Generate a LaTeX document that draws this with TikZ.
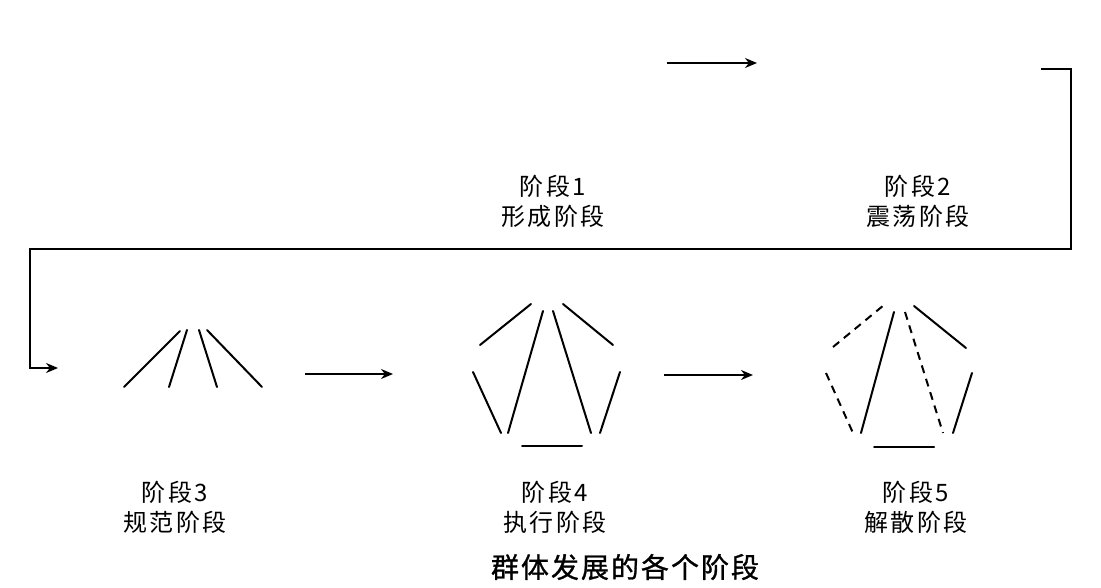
\documentclass[tikz,border=0pt]{standalone}
\usepackage{fontspec}
\setmainfont{Noto Sans CJK SC}
\usetikzlibrary{arrows.meta}
\newcommand{\lblk}{\kern2.5pt}
\newcommand{\ttlk}{\kern2pt}
\tikzset{
  stroke/.style={line width=2pt, line cap=round},
  dashstroke/.style={line width=2pt, dash pattern=on 8pt off 6pt},
  flow/.style={line width=1.6pt, -{Stealth[length=12pt,width=10pt]}},
  lbl/.style={align=center, font=\fontsize{24}{30}\selectfont, inner sep=0pt},
  ttl/.style={font=\fontsize{28}{32}\selectfont\addfontfeature{FakeBold=1}, inner sep=0pt}
}
\begin{document}
\begin{tikzpicture}[x=1pt,y=-1pt]
\useasboundingbox (0,0) rectangle (1101,588);
% top arrow (stage 1 -> stage 2)
\coordinate (a1s) at (667,63);
\coordinate (a1e) at (757,63);
\draw[flow] (a1s) -- (a1e);
% long connector stage 2 -> stage 3
\coordinate (c0) at (1041,69);
\coordinate (c1) at (1071,69);
\coordinate (c2) at (1071,249);
\coordinate (c3) at (30,249);
\coordinate (c4) at (30,368);
\coordinate (c5) at (58,368);
\draw[flow] (c0) -- (c1) -- (c2) -- (c3) -- (c4) -- (c5);
% stage 3 -> 4, 4 -> 5
\coordinate (b1s) at (305,374);
\coordinate (b1e) at (393,374);
\draw[flow] (b1s) -- (b1e);
\coordinate (b2s) at (664,375);
\coordinate (b2e) at (753,375);
\draw[flow] (b2s) -- (b2e);
% labels
\node[lbl] (l1) at (553,201) {阶\lblk 段\lblk 1\\形\lblk 成\lblk 阶\lblk 段};
\node[lbl] (l2) at (918,201) {阶\lblk 段\lblk 2\\震\lblk 荡\lblk 阶\lblk 段};
\node[lbl] (l3) at (175,507) {阶\lblk 段\lblk 3\\规\lblk 范\lblk 阶\lblk 段};
\node[lbl] (l4) at (555,507) {阶\lblk 段\lblk 4\\执\lblk 行\lblk 阶\lblk 段};
\node[lbl] (l5) at (916,507) {阶\lblk 段\lblk 5\\解\lblk 散\lblk 阶\lblk 段};
\node[ttl] (title) at (625,567) {群\ttlk 体\ttlk 发\ttlk 展\ttlk 的\ttlk 各\ttlk 个\ttlk 阶\ttlk 段};
% stage 3 drawing
\draw[stroke] (180,331) -- (124,387);
\draw[stroke] (187,330) -- (169,387);
\draw[stroke] (199,330) -- (217,387);
\draw[stroke] (207,330) -- (262,387);
% stage 4 drawing
\draw[stroke] (480,345) -- (531,304);
\draw[stroke] (543,311) -- (508,433);
\draw[stroke] (553,311) -- (591,433);
\draw[stroke] (563,304) -- (613,345);
\draw[stroke] (473,372) -- (501,433);
\draw[stroke] (620,372) -- (600,433);
\draw[stroke] (522,446) -- (582,446);
% stage 5 drawing
\draw[dashstroke] (833,347) -- (884,305);
\draw[stroke] (894,312) -- (861,433);
\draw[dashstroke] (905,312) -- (943,433);
\draw[stroke] (914,306) -- (966,348);
\draw[dashstroke] (826,373) -- (853,433);
\draw[stroke] (972,373) -- (953,433);
\draw[stroke] (874,447) -- (934,447);
\end{tikzpicture}
\end{document}
